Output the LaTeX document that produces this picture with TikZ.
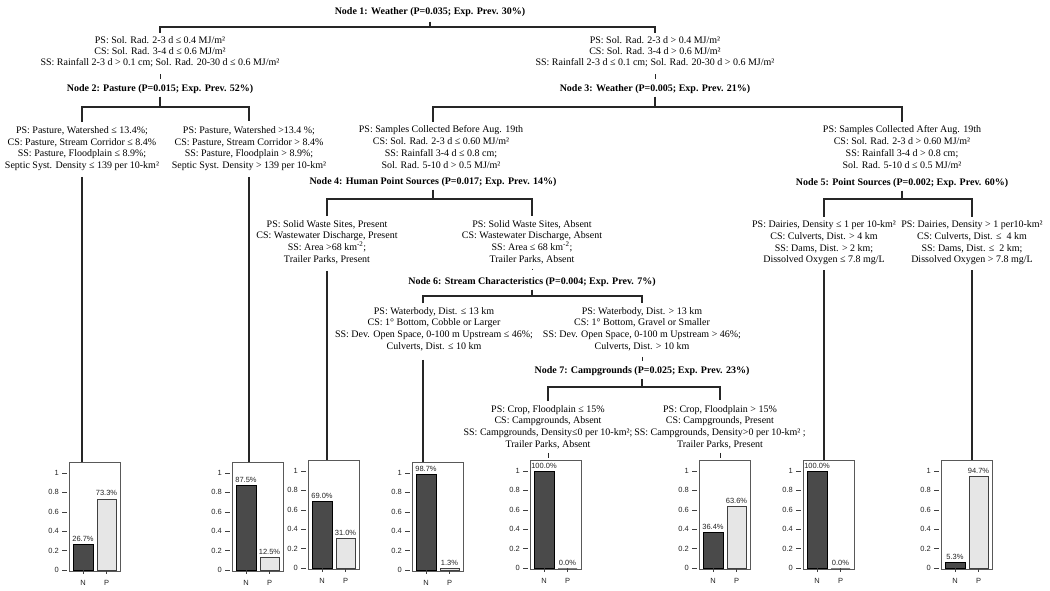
\documentclass[tikz,border=0pt]{standalone}
\usepackage{fontspec}
\setmainfont{Liberation Serif}
\newfontfamily\arialfont{Liberation Sans}
\definecolor{darkbar}{HTML}{4A4A4A}
\definecolor{lightbar}{HTML}{E6E6E6}
\definecolor{linegray}{HTML}{262626}
\newcommand{\barchart}[7]{%
  \node[chartbox, anchor=north west] (#1) at (#2,#3) {};
  \foreach \tickv/\tickl [count=\ti] in {0/0,0.2/0.2,0.4/0.4,0.6/0.6,0.8/0.8,1/1}{
    \draw[axistick] (#2-7,#3+108-97*\tickv) -- (#2-2,#3+108-97*\tickv);
    \node[ticklab] (#1y\ti) at (#2-10,#3+108-97*\tickv) {\tickl};
  }
  \draw[nbar] (#2+4,#3+108) rectangle (#2+24,#3+108-97*#4);
  \draw[pbar] (#2+28,#3+108) rectangle (#2+47,#3+108-97*#5);
  \draw[axistick] (#2+14,#3+108) -- (#2+14,#3+112);
  \draw[axistick] (#2+37.5,#3+108) -- (#2+37.5,#3+112);
  \node[pct] (#1pn) at (#2+14,#3+108-97*#4-5.5) {#6};
  \node[pct] (#1pp) at (#2+37.5,#3+108-97*#5-5.5) {#7};
  \node[barlab] (#1ln) at (#2+14,#3+121) {N};
  \node[barlab] (#1lp) at (#2+37.5,#3+121) {P};
}
\begin{document}
\begin{tikzpicture}[x=1pt,y=-1pt,
  treeline/.style={draw=linegray, line width=1.4pt},
  tickline/.style={draw=linegray, line width=0.8pt},
  condtext/.style={align=center, inner sep=1pt, font=\fontsize{10}{11.7}\selectfont},
  condtight/.style={align=center, inner sep=1pt, font=\fontsize{10}{10.8}\selectfont},
  nodetitle/.style={inner sep=1pt, font=\bfseries\fontsize{10}{12}\selectfont},
  chartbox/.style={draw=black!65, line width=1pt, minimum width=51pt, minimum height=109pt, inner sep=0pt},
  nbar/.style={draw=black, fill=darkbar, line width=1pt},
  pbar/.style={draw=black!75, fill=lightbar, line width=0.8pt},
  axistick/.style={draw=black!75, line width=0.6pt},
  pct/.style={font=\arialfont\fontsize{7.5}{8}\selectfont, inner sep=0pt, text=black!85},
  ticklab/.style={font=\arialfont\fontsize{7.5}{8}\selectfont, inner sep=0pt, anchor=east, text=black!85},
  barlab/.style={font=\arialfont\fontsize{7.5}{8}\selectfont, inner sep=0pt, text=black!85}
]
\useasboundingbox[fill=white] (0,0) rectangle (1050,590);

% ---------- titles ----------
\node[nodetitle] (n1) at (430,12) {Node 1: Weather (P=0.035; Exp. Prev. 30\%)};
\node[nodetitle] (n2) at (160,89) {Node 2: Pasture (P=0.015; Exp. Prev. 52\%)};
\node[nodetitle] (n3) at (655,89) {Node 3: Weather (P=0.005; Exp. Prev. 21\%)};
\node[nodetitle] (n4) at (433,182) {Node 4: Human Point Sources (P=0.017; Exp. Prev. 14\%)};
\node[nodetitle] (n5) at (902,183) {Node 5: Point Sources (P=0.002; Exp. Prev. 60\%)};
\node[nodetitle] (n6) at (532,282) {Node 6: Stream Characteristics (P=0.004; Exp. Prev. 7\%)};
\node[nodetitle] (n7) at (642,371) {Node 7: Campgrounds (P=0.025; Exp. Prev. 23\%)};

% ---------- split conditions ----------
\node[condtight] (c2) at (160,52) {PS: Sol. Rad. 2-3 d ≤ 0.4 MJ/m²\\CS: Sol. Rad. 3-4 d ≤ 0.6 MJ/m²\\SS: Rainfall 2-3 d > 0.1 cm; Sol. Rad. 20-30 d ≤ 0.6 MJ/m²};
\node[condtight] (c3) at (655,52) {PS: Sol. Rad. 2-3 d > 0.4 MJ/m²\\CS: Sol. Rad. 3-4 d > 0.6 MJ/m²\\SS: Rainfall 2-3 d ≤ 0.1 cm; Sol. Rad. 20-30 d > 0.6 MJ/m²};

\node[condtext] (c4) at (82,148.5) {PS: Pasture, Watershed ≤ 13.4\%;\\CS: Pasture, Stream Corridor ≤ 8.4\%\\SS: Pasture, Floodplain ≤ 8.9\%;\\Septic Syst. Density ≤ 139 per 10-km²};
\node[condtext] (c5) at (249,148.5) {PS: Pasture, Watershed >13.4 \%;\\CS: Pasture, Stream Corridor > 8.4\%\\SS: Pasture, Floodplain > 8.9\%;\\Septic Syst. Density > 139 per 10-km²};

\node[condtext] (c6) at (441,147) {PS: Samples Collected Before Aug. 19th\\CS: Sol. Rad. 2-3 d ≤ 0.60 MJ/m²\\SS: Rainfall 3-4 d ≤ 0.8 cm;\\Sol. Rad. 5-10 d > 0.5 MJ/m²};
\node[condtext] (c7) at (902,147) {PS: Samples Collected After Aug. 19th\\CS: Sol. Rad. 2-3 d > 0.60 MJ/m²\\SS: Rainfall 3-4 d > 0.8 cm;\\Sol. Rad. 5-10 d ≤ 0.5 MJ/m²};

\node[condtext] (c8) at (327,242) {PS: Solid Waste Sites, Present\\CS: Wastewater Discharge, Present\\SS: Area >68 km\textsuperscript{-2};\\Trailer Parks, Present};
\node[condtext] (c9) at (532,242) {PS: Solid Waste Sites, Absent\\CS: Wastewater Discharge, Absent\\SS: Area ≤ 68 km\textsuperscript{-2};\\Trailer Parks, Absent};

\node[condtext] (c10) at (824,243) {PS: Dairies, Density ≤ 1 per 10-km²\\CS: Culverts, Dist. > 4 km\\SS: Dams, Dist. > 2 km;\\Dissolved Oxygen ≤ 7.8 mg/L};
\node[condtext] (c11) at (972,243) {PS: Dairies, Density > 1 per10-km²\\CS: Culverts, Dist. ≤ \ 4 km\\SS: Dams, Dist. ≤ \ 2 km;\\Dissolved Oxygen > 7.8 mg/L};

\node[condtext] (c12) at (434,329) {PS: Waterbody, Dist. ≤ 13 km\\CS: 1° Bottom, Cobble or Larger\\SS: Dev. Open Space, 0-100 m Upstream ≤ 46\%;\\Culverts, Dist. ≤ 10 km};
\node[condtext] (c13) at (642,329) {PS: Waterbody, Dist. > 13 km\\CS: 1° Bottom, Gravel or Smaller\\SS: Dev. Open Space, 0-100 m Upstream > 46\%;\\Culverts, Dist. > 10 km};

\node[condtext] (c14) at (548,427) {PS: Crop, Floodplain ≤ 15\%\\CS: Campgrounds, Absent\\SS: Campgrounds, Density≤0 per 10-km²;\\Trailer Parks, Absent};
\node[condtext] (c15) at (720,427) {PS: Crop, Floodplain > 15\%\\CS: Campgrounds, Present\\SS: Campgrounds, Density>0 per 10-km² ;\\Trailer Parks, Present};

% ---------- terminal charts ----------
\barchart{t1}{69}{462}{0.267}{0.733}{26.7\%}{73.3\%}
\barchart{t2}{232}{462}{0.875}{0.125}{87.5\%}{12.5\%}
\barchart{t3}{308}{460}{0.690}{0.310}{69.0\%}{31.0\%}
\barchart{t4}{412}{462}{0.987}{0.013}{98.7\%}{1.3\%}
\barchart{t5}{530}{460}{1.0}{0.0}{100.0\%}{0.0\%}
\barchart{t6}{699}{460}{0.364}{0.636}{36.4\%}{63.6\%}
\barchart{t7}{803}{460}{1.0}{0.0}{100.0\%}{0.0\%}
\barchart{t8}{941}{460}{0.053}{0.947}{5.3\%}{94.7\%}

% ---------- split points ----------
\coordinate (s1) at (430,27);
\coordinate (s2) at (160,107);
\coordinate (s3) at (655,107);
\coordinate (s4) at (433,199);
\coordinate (s5) at (902,199);
\coordinate (s6) at (532,296);
\coordinate (s7) at (642,387);
\coordinate (a6) at ([xshift=-8pt]c6.north);
\coordinate (a12) at ([xshift=-11pt]c12.north);
\coordinate (b12) at ([xshift=-11pt]c12.south);

% ---------- connectors ----------
\draw[treeline, shorten <=4pt] (n1.south) -- (s1);
\draw[treeline, shorten <=3pt, shorten >=3pt] (c2.north) |- (s1) -| (c3.north);
\draw[tickline, shorten <=6pt, shorten >=4pt] (c2.south) -- (n2.north);
\draw[tickline, shorten <=6pt, shorten >=4pt] (c3.south) -- (n3.north);

\draw[treeline, shorten <=2pt] (n2.south) -- (s2);
\draw[treeline, shorten <=3pt, shorten >=4pt] (c4.north) |- (s2) -| (c5.north);
\draw[treeline, shorten <=5pt] (c4.south) -- (c4.south |- t1.north);
\draw[treeline, shorten <=5pt] (c5.south) -- (c5.south |- t2.north);

\draw[treeline, shorten <=2pt] (n3.south) -- (s3);
\draw[treeline, shorten <=3pt, shorten >=3pt] (a6) |- (s3) -| (c7.north);

\draw[treeline, shorten <=2pt] (n4.south) -- (s4);
\draw[treeline, shorten <=3pt, shorten >=3pt] (c8.north) |- (s4) -| (c9.north);
\draw[treeline, shorten <=6pt] (c8.south) -- (c8.south |- t3.north);
\draw[tickline, shorten <=4pt, shorten >=6pt] (c9.south) -- (n6.north);

\draw[treeline, shorten <=2pt] (n5.south) -- (s5);
\draw[treeline, shorten <=3pt, shorten >=3pt] (c10.north) |- (s5) -| (c11.north);
\draw[treeline, shorten <=4pt] (c10.south) -- (c10.south |- t7.north);
\draw[treeline, shorten <=4pt] (c11.south) -- (c11.south |- t8.north);

\draw[treeline, shorten <=2pt] (n6.south) -- (s6);
\draw[treeline, shorten <=3pt, shorten >=3pt] (a12) |- (s6) -| (c13.north);
\draw[treeline, shorten <=8pt] (b12) -- (b12 |- t4.north);
\draw[tickline, shorten <=5pt, shorten >=4pt] (c13.south) -- (n7.north);

\draw[treeline, shorten <=2pt] (n7.south) -- (s7);
\draw[treeline, shorten <=3pt, shorten >=4pt] (c14.north) |- (s7) -| (c15.north);
\draw[tickline, shorten <=3pt, shorten >=2pt] (c14.south) -- (c14.south |- t5.north);
\draw[tickline, shorten <=3pt, shorten >=2pt] (c15.south) -- (c15.south |- t6.north);
\end{tikzpicture}
\end{document}
